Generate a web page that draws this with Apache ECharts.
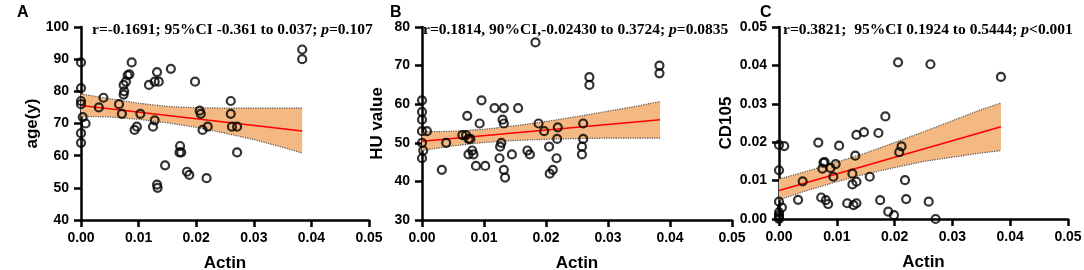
<!DOCTYPE html>
<html>
<head>
<meta charset="utf-8">
<script src="https://cdn.jsdelivr.net/npm/echarts@6/dist/echarts.min.js"></script>
<style>
  html, body { margin: 0; padding: 0; background: #fff; }
  #chart { width: 1084px; height: 270px; }
</style>
</head>
<body>
<div id="chart"></div>
<script>
// panel A: actin vs age
const actinA = [0, 0, 0, 0, 0.0003, 0.0008, 0, 0, 0.0031, 0.0039, 0.0066, 0.0071, 0.0074, 0.0075, 0.0074, 0.0078,
  0.0081, 0.0084, 0.0088, 0.0093, 0.0097, 0.0103, 0.0118, 0.0128, 0.0132, 0.0135, 0.0128, 0.0125, 0.0132, 0.0133,
  0.0146, 0.0156, 0.0172, 0.0171, 0.0174, 0.0184, 0.0188, 0.0198, 0.0206, 0.0208, 0.0211, 0.0220, 0.0218, 0.0260,
  0.0260, 0.0262, 0.0271, 0.0271, 0.0384, 0.0384];
const ageA = [89, 81, 77, 76, 72, 70, 67, 64, 75, 78, 76, 73, 79, 80, 82, 83,
  85, 85.3, 89, 68, 69, 73, 82, 83, 86, 83, 71, 69, 51, 50,
  57, 87, 63, 61, 61, 55, 54, 83, 74, 73, 68, 69, 53, 77,
  73, 69, 69, 61, 93, 90];

// panel B: actin vs HU value
const actinB = [0, 0, 0, 0, 0.0008, 0, 0.0002, 0, 0.0032, 0.0039, 0.0065, 0.0071, 0.0073, 0.0075, 0.0078, 0.0081,
  0.0075, 0.0083, 0.0087, 0.0093, 0.0096, 0.0102, 0.0117, 0.0132, 0.0130, 0.0132, 0.0128, 0.0126, 0.0125, 0.0132,
  0.0134, 0.0145, 0.0155, 0.0170, 0.0174, 0.0183, 0.0188, 0.0197, 0.0205, 0.0206, 0.0211, 0.0217, 0.0219, 0.0218,
  0.0260, 0.0260, 0.0258, 0.0258, 0.0270, 0.0270, 0.0383, 0.0383];
const huB = [61, 58, 56, 53, 53, 50, 48, 46, 43, 50, 52, 52, 57, 51, 51, 48,
  47, 47, 44, 55, 61, 44, 59, 59, 56, 55, 50, 49, 46, 43,
  41, 47, 59, 48, 47, 76, 55, 53, 49, 42, 43, 46, 54, 51,
  55, 51, 49, 47, 67, 65, 70, 68];

// panel C: actin vs CD105
const actinC = [0, 0.0009, 0, 0, 0.0005, 0, 0, 0, 0, 0.0033, 0.0041, 0.0068, 0.0073, 0.0077, 0.0079, 0.0075,
  0.0081, 0.0085, 0.0089, 0.0098, 0.0094, 0.0104, 0.0118, 0.0127, 0.0127, 0.0134, 0.0129, 0.0134, 0.0132, 0.0134,
  0.0147, 0.0157, 0.0172, 0.0175, 0.0184, 0.0189, 0.0199, 0.0206, 0.0208, 0.0212, 0.0218, 0.0220, 0.0259, 0.0262,
  0.0271, 0.0384];
const cd105C = [0.0193, 0.0190, 0.0127, 0.0045, 0.0030, 0.0017, 0.0010, 0.0004, 0.0000, 0.0050, 0.0098, 0.0199,
  0.0056, 0.0147, 0.0148, 0.0131, 0.0049, 0.0039, 0.0133, 0.0143, 0.0110, 0.0191, 0.0041, 0.0118, 0.0090, 0.0097,
  0.0036, 0.0041, 0.0165, 0.0219, 0.0226, 0.0110, 0.0224, 0.0049, 0.0267, 0.0019, 0.0010, 0.0408, 0.0174, 0.0189,
  0.0101, 0.0052, 0.0045, 0.0403, 0.0000, 0.0370];

// regression line and confidence bands
const bandX = [0, 0.005, 0.01, 0.015, 0.02, 0.025, 0.03, 0.035, 0.0384];
const upperA = [79.2, 77.7, 76.3, 75.3, 74.9, 74.8, 74.8, 74.8, 74.8];
const lowerA = [72.2, 72.0, 71.3, 70.2, 68.8, 67.0, 65.0, 62.6, 60.8];
const fitA = [75.6, 67.7];
const upperB = [52.8, 53.0, 53.5, 54.4, 55.5, 56.8, 58.2, 59.6, 60.7];
const lowerB = [48.0, 49.2, 50.1, 50.6, 50.9, 51.1, 51.2, 51.2, 51.2];
const fitB = [50.4, 56.0];
const upperC = [0.0104, 0.0125, 0.0148, 0.0172, 0.0199, 0.0227, 0.0256, 0.0285, 0.0302];
const lowerC = [0.0050, 0.0075, 0.0097, 0.0117, 0.0134, 0.0150, 0.0161, 0.0172, 0.0178];
const fitC = [0.0074, 0.0240];
const fitX = [0, 0.0384];

const letters = ['A', 'B', 'C'];
const yNames = ['age(y)', 'HU value', 'CD105'];
const statTexts = [
  ['r=-0.1691; 95%CI -0.361 to 0.037; ', '=0.107'],
  ['r=0.1814, 90%CI,-0.02430 to 0.3724; ', '=0.0835'],
  ['r=0.3821;  95%CI 0.1924 to 0.5444; ', '<0.001']
];

const SANS = '"Liberation Sans", Arial, sans-serif';
const SERIF = '"Liberation Serif", "Times New Roman", serif';

const grids = [
  { left: 81, top: 27, width: 288, height: 193, outerBoundsMode: 'none' },
  { left: 422, top: 27, width: 310, height: 193, outerBoundsMode: 'none' },
  { left: 779, top: 27, width: 289, height: 192, outerBoundsMode: 'none' }
];
const yRanges = [[40, 100, 10], [30, 80, 10], [0, 0.05, 0.01]];
const yNameGaps = [40, 36, 44];
const letterPos = [12, 385, 755];
const textPos = [92, 423, 783];

const panels = [
  { x: actinA, y: ageA, up: upperA, lo: lowerA, fit: fitA },
  { x: actinB, y: huB, up: upperB, lo: lowerB, fit: fitB },
  { x: actinC, y: cd105C, up: upperC, lo: lowerC, fit: fitC }
];

const axisCommon = {
  axisLine: { show: true, onZero: false, lineStyle: { color: '#000', width: 2.5 } },
  axisTick: { show: true, length: 7, lineStyle: { color: '#000', width: 2.5 } },
  splitLine: { show: false },
  axisLabel: { color: '#000', fontSize: 14, fontWeight: 'bold', fontFamily: SANS, margin: 11 },
  nameTextStyle: { color: '#000', fontSize: 17, fontWeight: 'bold', fontFamily: SANS }
};

const xAxes = grids.map((g, i) => ({
  type: 'value', gridIndex: i, min: 0, max: 0.05, interval: 0.01,
  name: 'Actin', nameLocation: 'middle', nameGap: 35,
  axisLine: axisCommon.axisLine, axisTick: axisCommon.axisTick, splitLine: axisCommon.splitLine,
  axisLabel: Object.assign({}, axisCommon.axisLabel, { formatter: v => v.toFixed(2) }),
  nameTextStyle: axisCommon.nameTextStyle
}));

const yAxes = grids.map((g, i) => ({
  type: 'value', gridIndex: i, min: yRanges[i][0], max: yRanges[i][1], interval: yRanges[i][2],
  name: yNames[i], nameLocation: 'middle', nameGap: yNameGaps[i], nameRotate: 90,
  axisLine: axisCommon.axisLine, axisTick: axisCommon.axisTick, splitLine: axisCommon.splitLine,
  axisLabel: Object.assign({}, axisCommon.axisLabel, {
    margin: 12,
    formatter: v => (i === 2 ? v.toFixed(2) : String(v))
  }),
  nameTextStyle: axisCommon.nameTextStyle
}));

const titles = [];
letters.forEach((l, i) => {
  titles.push({
    text: l, left: letterPos[i], top: 0,
    textStyle: { fontSize: 16, fontWeight: 'bold', fontFamily: SANS, color: '#000' }
  });
  titles.push({
    text: '{a|' + statTexts[i][0] + '}{i|p}{a|' + statTexts[i][1] + '}',
    left: textPos[i], top: 22, padding: 0,
    textStyle: {
      rich: {
        a: { fontSize: 15.5, fontWeight: 'bold', fontFamily: SERIF, color: '#000' },
        i: { fontSize: 15.5, fontWeight: 'bold', fontStyle: 'italic', fontFamily: SERIF, color: '#000' }
      }
    }
  });
});

const series = [];
panels.forEach((p, i) => {
  // confidence band
  series.push({
    type: 'custom', xAxisIndex: i, yAxisIndex: i, silent: true, z: 1,
    data: bandX.map((x, k) => [x, p.lo[k], p.up[k]]),
    renderItem: (params, api) => {
      if (params.dataIndex !== 0) return;
      const pts = [];
      bandX.forEach((x, k) => pts.push(api.coord([x, p.up[k]])));
      for (let k = bandX.length - 1; k >= 0; k--) pts.push(api.coord([bandX[k], p.lo[k]]));
      return { type: 'polygon', shape: { points: pts }, style: { fill: '#F4B883' } };
    }
  });
  [p.up, p.lo].forEach(edge => {
    series.push({
      type: 'line', xAxisIndex: i, yAxisIndex: i, symbol: 'none', silent: true, z: 2,
      data: bandX.map((x, k) => [x, edge[k]]),
      lineStyle: { color: '#555', width: 1.2, type: 'dotted' }
    });
  });
  series.push({
    type: 'line', xAxisIndex: i, yAxisIndex: i, symbol: 'none', silent: true, z: 3,
    data: fitX.map((x, k) => [x, p.fit[k]]),
    lineStyle: { color: '#FF0000', width: 1.5 }
  });
  series.push({
    type: 'scatter', xAxisIndex: i, yAxisIndex: i, z: 5,
    data: p.x.map((x, k) => [x, p.y[k]]),
    symbol: 'circle', symbolSize: 8,
    itemStyle: { color: 'rgba(0,0,0,0)', borderColor: '#000', borderWidth: 2.2 }
  });
});

const chart = echarts.init(document.getElementById('chart'));
chart.setOption({
  backgroundColor: '#fff',
  animation: false,
  title: titles,
  grid: grids,
  xAxis: xAxes,
  yAxis: yAxes,
  series: series
});
</script>
</body>
</html>
